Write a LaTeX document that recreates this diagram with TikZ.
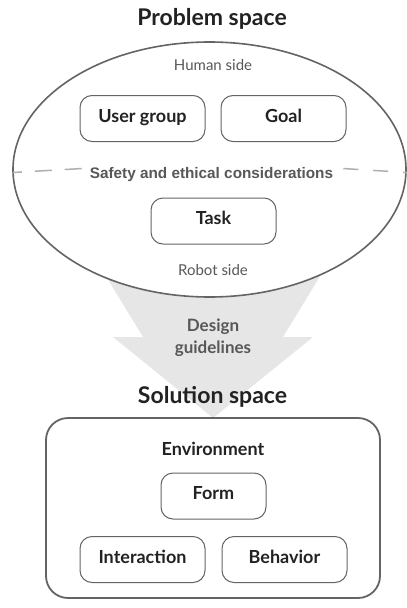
\documentclass[tikz,border=0pt]{standalone}
\usepackage{fontspec}
\setmainfont{Lato}
\newfontfamily\arialfont{Liberation Sans}
\usepackage{xcolor}
\usepackage{tikz}
\usetikzlibrary{positioning}
\definecolor{ink}{RGB}{34,34,34}
\definecolor{rim}{RGB}{100,100,100}
\definecolor{soft}{RGB}{88,88,88}
\definecolor{arrowgray}{RGB}{230,230,230}
\definecolor{dashgray}{RGB}{175,175,175}

\tikzset{
	box/.style={draw=rim,line width=1pt,rounded corners=12pt,minimum width=125pt,minimum height=46pt,
		inner sep=0pt,text height=0.72em,text depth=0pt,text=ink,font=\fontsize{18}{20}\selectfont\bfseries},
	title/.style={anchor=base,text=ink,font=\fontsize{23}{26}\selectfont\bfseries},
	side/.style={anchor=base,text=soft,font=\fontsize{15}{18}\selectfont},
	dashline/.style={dashgray,line width=1.5pt}
}

\begin{document}
\begin{tikzpicture}[x=1pt,y=-1pt]
	\useasboundingbox (0,0) rectangle (407,608);

	% big arrow from problem to solution
	\fill [arrowgray] (93,255)--(333,255)--(283,337)--(313,337)--(213,418)--(113,337)--(143,337)--cycle;

	\draw [rim,line width=1.6pt,fill=white] (209.5,169.5) ellipse [x radius=196.5pt,y radius=127.5pt];

\node [title] (problem) at (212,25) {Problem space};
\node [side] (human) at (213,70) {Human side};
\node [box] (usergroup) at (142.5,118.5) {User group};
\node [box] (goal) at (283.5,118.5) {Goal};

	\node [anchor=base,inner sep=0pt,text=soft,font=\fontsize{15.3}{18}\selectfont\arialfont\bfseries] (safety) at (211.5,178) {Safety and ethical considerations};
	\coordinate (dl) at (13,172.5);
	\coordinate (dr) at (407,172.5);
	\draw [dashline,dash pattern=on 17pt off 13pt] (safety.west) ++(-8,-5.5) -- (dl);
	\draw [dashline,dash pattern=on 15pt off 15pt] (safety.east) ++(10,-5.5) -- (dr);

\node [box] (task) at (213.5,221) {Task};
\node [side] (robot) at (213,275) {Robot side};

	\node [align=center,text=soft,font=\fontsize{17}{22}\selectfont\bfseries] (guide) at (213,338) {Design\\guidelines};

\node [title] (solution) at (212.5,403) {Solution space};
	\draw [rim,line width=1.8pt,rounded corners=22pt] (46,418) rectangle (380,598);
	\node [anchor=base,text=ink,font=\fontsize{18}{20}\selectfont\bfseries] (env) at (213,455) {Environment};

\node [box,minimum width=105pt] (form) at (213.5,496) {Form};
\node [box] (interaction) at (142.5,559.5) {Interaction};
\node [box] (behavior) at (284.5,559.5) {Behavior};

\end{tikzpicture}
\end{document}
